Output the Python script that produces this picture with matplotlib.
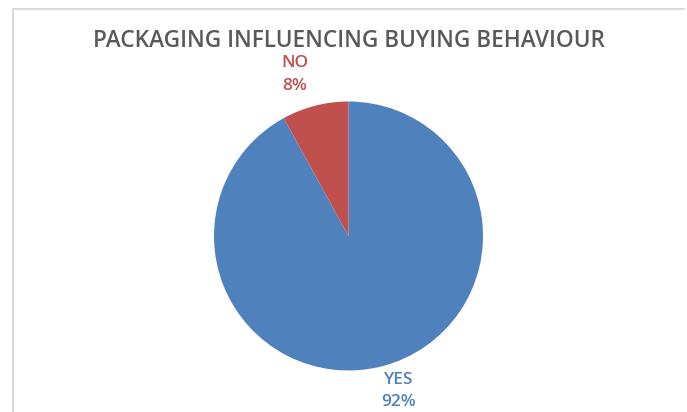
import matplotlib
matplotlib.use("Agg")
import matplotlib.pyplot as plt
from matplotlib.lines import Line2D

title = "PACKAGING INFLUENCING BUYING BEHAVIOUR"
categories = ["YES", "NO"]
values = [92, 8]
colors = ["#4F81BD", "#C0504D"]

W, H = 687, 412
fig = plt.figure(figsize=(W / 100, H / 100), dpi=100)
fig.patch.set_facecolor("white")
ax = fig.add_axes([0, 0, 1, 1])
ax.set_xlim(0, W)
ax.set_ylim(0, H)
ax.set_aspect("equal")
ax.axis("off")

cx, cy, r = 348.5, H - 236, 134.5
ax.pie(values, colors=colors, startangle=90, counterclock=False,
       center=(cx, cy), radius=r, wedgeprops=dict(linewidth=0))
ax.set_xlim(0, W)
ax.set_ylim(0, H)

# border (top and left)
fig.add_artist(Line2D([13 / W, 684 / W], [1 - 9 / H, 1 - 9 / H], color="#d9d9d9", lw=1.5))
fig.add_artist(Line2D([13 / W, 13 / W], [1 - 9 / H, 0], color="#d9d9d9", lw=1.5))

ax.text(349, H - 41, title, ha="center", va="center", fontsize=16.3,
        color="#595959", family="Open Sans", fontweight="semibold")

label_pos = {"NO": (295, 63, 86), "YES": (399, 380, 402)}
for cat, val, col in zip(categories, values, colors):
    x, y1, y2 = label_pos[cat]
    ax.text(x, H - y1, cat, ha="center", va="center", fontsize=12.5,
            color=col, family="Open Sans", fontweight="semibold")
    ax.text(x, H - y2, f"{val}%", ha="center", va="center", fontsize=12.5,
            color=col, family="Open Sans", fontweight="semibold")

fig.savefig("out.png", dpi=100)
